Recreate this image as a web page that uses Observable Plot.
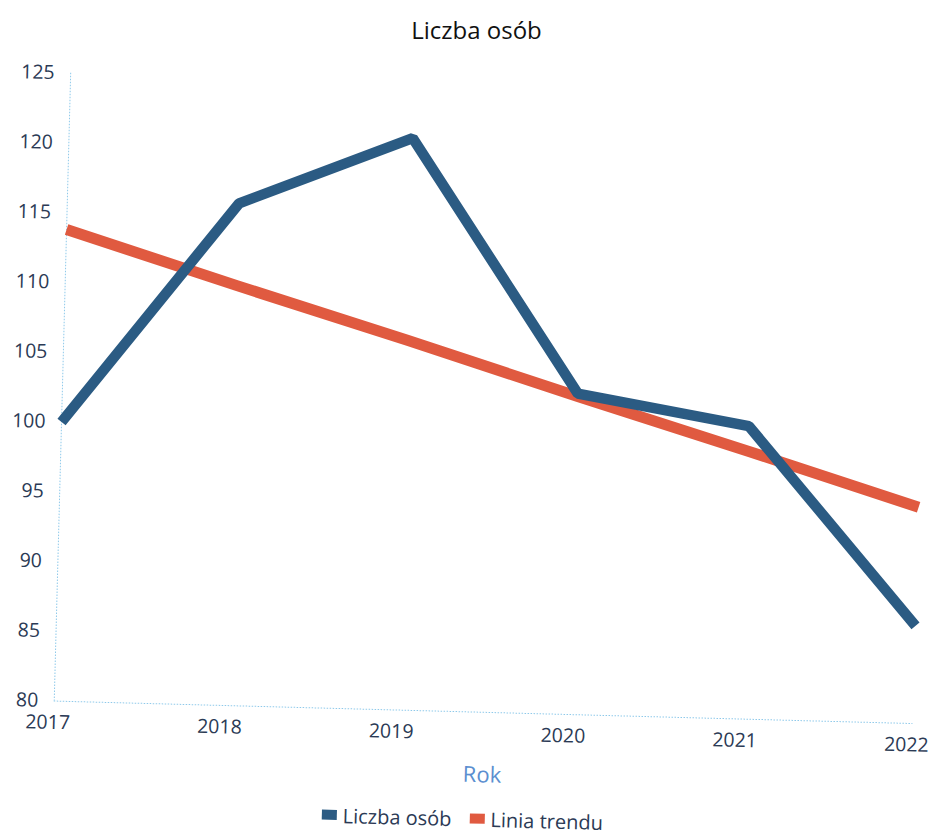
<!DOCTYPE html>
<html>
<head>
<meta charset="utf-8">
<script src="https://cdn.jsdelivr.net/npm/d3@7"></script>
<script src="https://cdn.jsdelivr.net/npm/@observablehq/plot@0.6"></script>
<style>
  html, body { margin: 0; background: #fff; font-family: "Open Sans", sans-serif; }
  body { min-height: 837px; }
  #title { height: 56px; line-height: 60px; text-align: center; font-size: 24px; color: #111; padding-left: 16px; box-sizing: border-box; }
  #wrap { transform: rotate(1.5deg); transform-origin: 37px 329px; }
  #chart svg { display: block; }
  #legend { display: flex; justify-content: center; align-items: center; gap: 18px; font-size: 20px; color: #2b3a55; padding-left: 10px; margin-top: 2px; height: 28px; }
  .sw { display: inline-block; width: 15px; height: 10px; margin-right: 6px; vertical-align: middle; }
  .item { display: flex; align-items: center; }
</style>
</head>
<body>
<div id="title">Liczba osób</div>
<div id="wrap">
  <div id="chart"></div>
  <div id="legend"></div>
</div>
<script>
const years = [2017, 2018, 2019, 2020, 2021, 2022];
const liczbaOsob = [100, 116, 121, 103, 101, 87];
const liniaTrendu = [113.8, 110.1, 106.5, 102.8, 99.2, 95.5];
const yTicks = [80, 85, 90, 95, 100, 105, 110, 115, 120, 125];
const seriesNames = ["Liczba osób", "Linia trendu"];
const seriesColors = ["#2b5b83", "#e05a40"];

const rows = years.map((y, i) => ({year: y, value: liczbaOsob[i], trend: liniaTrendu[i]}));

const chart = Plot.plot({
  width: 937,
  height: 735,
  marginLeft: 62,
  marginRight: 16,
  marginTop: 16,
  marginBottom: 91,
  style: {fontFamily: "Open Sans, sans-serif", fontSize: "19px", color: "#2b3a55", background: "transparent", overflow: "visible"},
  x: {domain: [2017, 2022], label: null},
  y: {domain: [80, 125], label: null},
  marks: [
    Plot.ruleX([2017], {stroke: "#8ec9ea", strokeDasharray: "1.5,1.5", strokeWidth: 1}),
    Plot.ruleY([80], {stroke: "#8ec9ea", strokeDasharray: "1.5,1.5", strokeWidth: 1}),
    Plot.axisY(yTicks, {tickSize: 0, tickPadding: 16, fontSize: 19.5, fill: "#2b3a55"}),
    Plot.axisX(years, {tickSize: 0, tickPadding: 14, tickFormat: d => String(d), fontSize: 19.5, fill: "#2b3a55", dx: -6}),
    Plot.text(["Rok"], {frameAnchor: "bottom", dy: 70, fontSize: 22, fill: "#5b8fd0", text: d => d}),
    Plot.line(rows, {x: "year", y: "trend", stroke: seriesColors[1], strokeWidth: 11, strokeLinecap: "butt"}),
    Plot.line(rows, {x: "year", y: "value", stroke: seriesColors[0], strokeWidth: 10.5, strokeLinejoin: "miter", strokeLinecap: "butt"})
  ]
});
document.getElementById("chart").appendChild(chart);

const leg = document.getElementById("legend");
seriesNames.forEach((n, i) => {
  const it = document.createElement("span");
  it.className = "item";
  it.innerHTML = `<span class="sw" style="background:${seriesColors[i]}"></span>${n}`;
  leg.appendChild(it);
});
</script>
</body>
</html>
